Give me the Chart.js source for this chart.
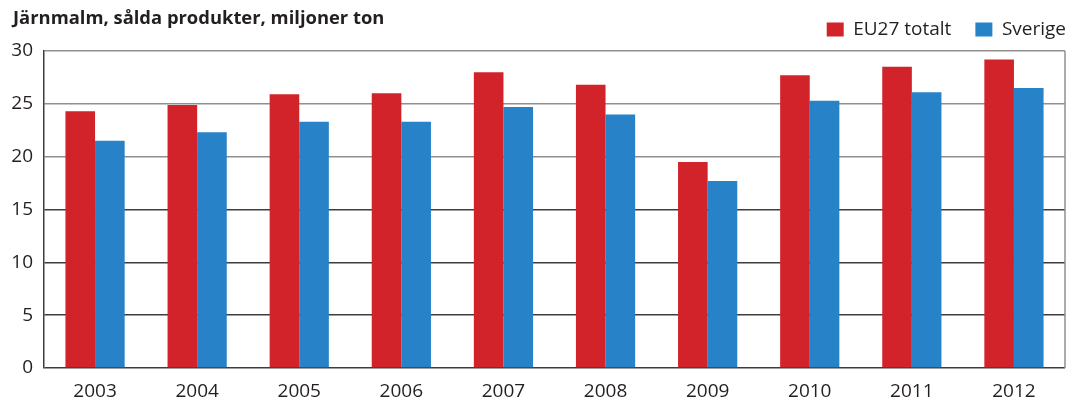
<!DOCTYPE html>
<html>
<head>
<meta charset="utf-8">
<script src="https://cdn.jsdelivr.net/npm/chart.js@4/dist/chart.umd.min.js"></script>
<style>
html,body{margin:0;padding:0;background:#fff;}
#wrap{width:1069px;height:405px;position:relative;}
</style>
</head>
<body>
<div id="wrap"><canvas id="c" width="1069" height="405"></canvas></div>
<script>
const title = "Järnmalm, sålda produkter, miljoner ton";
const years = ["2003","2004","2005","2006","2007","2008","2009","2010","2011","2012"];
const eu27 = [24.3, 24.9, 25.9, 26.0, 28.0, 26.8, 19.5, 27.7, 28.5, 29.2];
const sverige = [21.5, 22.3, 23.3, 23.3, 24.7, 24.0, 17.7, 25.3, 26.1, 26.5];
const seriesNames = ["EU27 totalt", "Sverige"];
const yTicks = [0, 5, 10, 15, 20, 25, 30];

const FONT = "'Open Sans'";
const TEXT = "#231f20";

const titlePlugin = {
  id: 'titleDraw',
  afterLayout(chart) {
    const lg = chart.legend;
    if (lg) {
      lg.left += 25; lg.right += 25;
      lg.top -= 2; lg.bottom -= 2;
    }
  },
  afterDraw(chart) {
    const ctx = chart.ctx;
    ctx.save();
    ctx.font = "bold 18.4px " + FONT;
    ctx.fillStyle = TEXT;
    ctx.textBaseline = "alphabetic";
    ctx.textAlign = "left";
    ctx.fillText(title, 13, 24);
    const a = chart.chartArea;
    ctx.strokeStyle = "#8f8f8f";
    ctx.lineWidth = 1.5;
    ctx.beginPath();
    ctx.moveTo(a.right, a.top);
    ctx.lineTo(a.right, a.bottom);
    ctx.stroke();
    ctx.restore();
  }
};

new Chart(document.getElementById('c'), {
  type: 'bar',
  data: {
    labels: years,
    datasets: [
      { label: seriesNames[0], data: eu27, backgroundColor: "#d2232a", borderWidth: 0 },
      { label: seriesNames[1], data: sverige, backgroundColor: "#2882c8", borderWidth: 0 }
    ]
  },
  options: {
    responsive: false,
    animation: false,
    devicePixelRatio: 1,
    layout: { padding: { top: -2, right: 4, left: 0, bottom: 0 } },
    datasets: { bar: { categoryPercentage: 0.58, barPercentage: 1.0 } },
    plugins: {
      tooltip: { enabled: false },
      title: { display: false },
      legend: {
        position: 'top',
        align: 'end',
        labels: {
          boxWidth: 17,
          boxHeight: 14,
          padding: 24,
          color: TEXT,
          font: { family: FONT, size: 19 }
        }
      }
    },
    scales: {
      x: {
        grid: { display: false, drawTicks: false },
        border: { display: false },
        ticks: { color: TEXT, font: { family: FONT, size: 19 }, padding: 12, maxRotation: 0 },
        afterFit(s) { s.height = 37; }
      },
      y: {
        min: 0, max: 30,
        afterBuildTicks(s) { s.ticks = yTicks.map(v => ({ value: v })); },
        grid: {
          drawTicks: false,
          color: (c) => (c.tick && c.tick.value >= 20) ? "#8f8f8f" : "#3d3d3d",
          lineWidth: 1.5
        },
        border: { display: true, color: "#3d3d3d", width: 1.5 },
        ticks: { color: TEXT, font: { family: FONT, size: 19 }, padding: 11 },
        afterFit(s) { s.width = 44; }
      }
    }
  },
  plugins: [titlePlugin]
});
</script>
</body>
</html>
